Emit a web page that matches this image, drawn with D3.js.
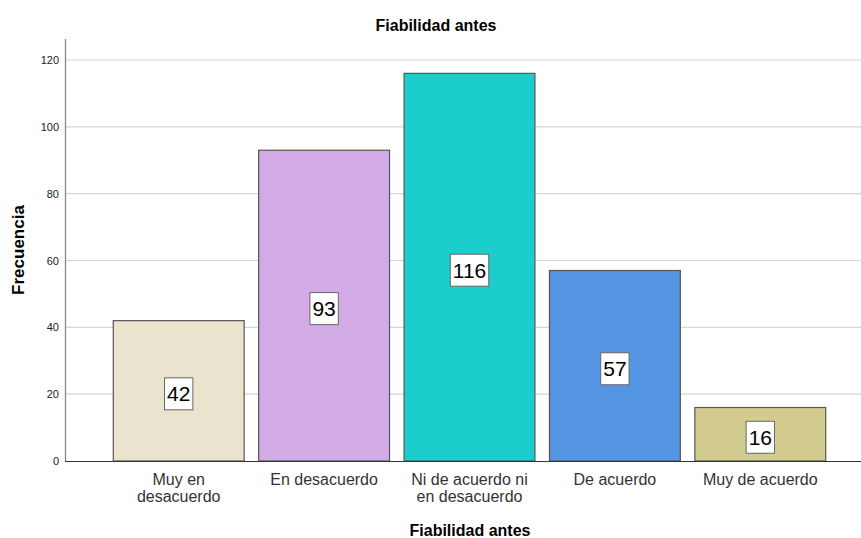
<!DOCTYPE html>
<html>
<head>
<meta charset="utf-8">
<script src="https://cdn.jsdelivr.net/npm/d3@7"></script>
<style>
  body { margin: 0; background: #fff; }
  text { font-family: "Liberation Sans", Arial, sans-serif; }
</style>
</head>
<body>
<svg width="861" height="538"></svg>
<script>
const categories = [['Muy en', 'desacuerdo'], ['En desacuerdo'], ['Ni de acuerdo ni', 'en desacuerdo'], ['De acuerdo'], ['Muy de acuerdo']];
const values = [42, 93, 116, 57, 16];
const colors = ['#EAE4CF', '#D2AAE6', '#1CCDCD', '#5596E4', '#D2CC8F'];
const yTicks = [0, 20, 40, 60, 80, 100, 120];

var svg = d3.select('svg');

var x = d3.scaleBand()
  .domain(d3.range(values.length))
  .range([106, 833])
  .paddingInner(0.1)
  .paddingOuter(0.05);

var y = d3.scaleLinear().domain([0, 120]).range([461, 60]);

// grid
svg.append('g')
  .selectAll('line')
  .data(yTicks.slice(1))
  .enter()
  .append('line')
  .attr('x1', 65).attr('x2', 861)
  .attr('y1', d => y(d)).attr('y2', d => y(d))
  .attr('stroke', '#d6d6d6')
  .attr('stroke-width', 1.2);

// y axis
var yAxis = svg.append('g')
  .attr('transform', 'translate(65,0)')
  .call(d3.axisLeft(y).tickValues(yTicks).tickSize(0).tickPadding(6));
yAxis.select('.domain').remove();
yAxis.selectAll('text').attr('font-size', 11).attr('fill', '#222');
svg.append('line')
  .attr('x1', 65.5).attr('x2', 65.5)
  .attr('y1', 39).attr('y2', 461)
  .attr('stroke', '#888').attr('stroke-width', 1.3);

// bars
svg.append('g')
  .selectAll('rect')
  .data(values)
  .enter()
  .append('rect')
  .attr('x', (d, i) => x(i))
  .attr('y', d => y(d))
  .attr('width', x.bandwidth())
  .attr('height', d => y(0) - y(d))
  .attr('fill', (d, i) => colors[i])
  .attr('stroke', '#555')
  .attr('stroke-width', 1.2);

// baseline
svg.append('line')
  .attr('x1', 65).attr('x2', 861)
  .attr('y1', 461.5).attr('y2', 461.5)
  .attr('stroke', '#333').attr('stroke-width', 1.2);

// value labels
var lab = svg.append('g')
  .selectAll('g')
  .data(values)
  .enter()
  .append('g')
  .attr('transform', (d, i) => 'translate(' + (x(i) + x.bandwidth() / 2) + ',' + (y(d / 2) + 3) + ')');
lab.append('text')
  .attr('text-anchor', 'middle')
  .attr('dy', '0.36em')
  .attr('font-size', 21)
  .attr('fill', '#000')
  .text(d => d);
lab.each(function () {
  var g = d3.select(this);
  var bb = g.select('text').node().getBBox();
  g.insert('rect', 'text')
    .attr('x', bb.x - 2.5).attr('y', -16)
    .attr('width', bb.width + 5).attr('height', 32)
    .attr('fill', '#fff')
    .attr('stroke', '#666').attr('stroke-width', 1);
});

// category labels
var cat = svg.append('g')
  .selectAll('text')
  .data(categories)
  .enter()
  .append('text')
  .attr('x', (d, i) => x(i) + x.bandwidth() / 2)
  .attr('y', 485)
  .attr('text-anchor', 'middle')
  .attr('font-size', 16)
  .attr('fill', '#333');
cat.selectAll('tspan')
  .data(d => d)
  .enter()
  .append('tspan')
  .attr('x', function () { return this.parentNode.getAttribute('x'); })
  .attr('dy', (d, j) => j === 0 ? 0 : 17)
  .text(d => d);

// titles
svg.append('text')
  .attr('x', 436).attr('y', 31)
  .attr('text-anchor', 'middle')
  .attr('font-size', 16).attr('font-weight', 'bold')
  .text('Fiabilidad antes');
svg.append('text')
  .attr('x', 470).attr('y', 536)
  .attr('text-anchor', 'middle')
  .attr('font-size', 16).attr('font-weight', 'bold')
  .text('Fiabilidad antes');
svg.append('text')
  .attr('transform', 'translate(24,250) rotate(-90)')
  .attr('text-anchor', 'middle')
  .attr('font-size', 17).attr('font-weight', 'bold')
  .text('Frecuencia');
</script>
</body>
</html>
